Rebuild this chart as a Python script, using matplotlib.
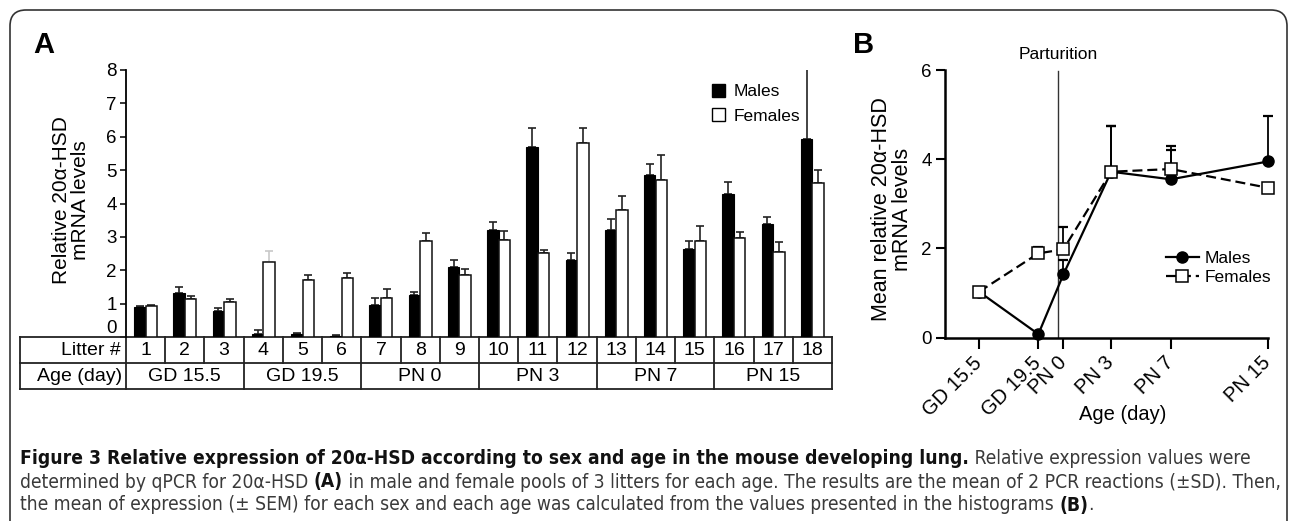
import numpy as np
import matplotlib
matplotlib.use("Agg")
import matplotlib.pyplot as plt
from matplotlib.patches import Patch, FancyBboxPatch
from matplotlib.transforms import blended_transform_factory, IdentityTransform

plt.rcParams['font.family'] = ['Liberation Sans', 'DejaVu Sans']

# ---------------- data ----------------
litters = list(range(1, 19))
age_groups = ["GD 15.5", "GD 19.5", "PN 0", "PN 3", "PN 7", "PN 15"]
males = [0.91, 1.31, 0.79, 0.10, 0.10, 0.04, 0.97, 1.25, 2.09,
         3.20, 5.69, 2.31, 3.20, 4.85, 2.65, 4.27, 3.40, 5.92]
males_sd = [0.03, 0.20, 0.07, 0.11, 0.03, 0.01, 0.20, 0.11, 0.22,
            0.26, 0.57, 0.22, 0.34, 0.33, 0.23, 0.36, 0.19, 2.10]
females = [0.94, 1.13, 1.05, 2.25, 1.71, 1.78, 1.17, 2.88, 1.86,
           2.92, 2.51, 5.81, 3.81, 4.69, 2.89, 2.96, 2.55, 4.62]
females_sd = [0.02, 0.11, 0.08, 0.33, 0.14, 0.15, 0.27, 0.23, 0.18,
              0.26, 0.10, 0.45, 0.42, 0.76, 0.44, 0.18, 0.30, 0.38]

age_labels = ["GD 15.5", "GD 19.5", "PN 0", "PN 3", "PN 7", "PN 15"]
age_pos = [0.0, 3.95, 5.62, 8.8, 12.78, 19.25]
parturition_pos = 5.25
mean_males = [1.03, 0.08, 1.42, 3.72, 3.55, 3.95]
mean_males_sem = [0.0, 0.0, 0.32, 1.03, 0.65, 1.01]
mean_females = [1.03, 1.89, 1.98, 3.72, 3.78, 3.36]
mean_females_sem = [0.0, 0.15, 0.49, 1.02, 0.52, 0.0]

# ---------------- figure ----------------
W, H = 1290, 521
fig = plt.figure(figsize=(W / 100, H / 100), dpi=100)

def fx(x):
    return x / W

def fy(y):
    return 1 - y / H

# border (rounded frame, open at the bottom)
border = FancyBboxPatch((10, -30), 1277, (H - 10) + 30,
                        boxstyle="round,pad=0,rounding_size=16",
                        transform=IdentityTransform(), fill=False,
                        edgecolor='#333333', linewidth=1.2)
fig.patches.append(border)

# ---------------- panel A ----------------
axA_l, axA_r, axA_t, axA_b = 126, 832, 70, 337
axA = fig.add_axes([fx(axA_l), fy(axA_b), fx(axA_r - axA_l), (axA_b - axA_t) / H])
x = np.array(litters, dtype=float)
off, bw = 0.147, 0.29
axA.bar(x - off, males, width=bw, color='black', edgecolor='black', linewidth=0.8, zorder=3)
axA.bar(x + off, females, width=bw, color='white', edgecolor='#111111', linewidth=1.1, zorder=3)
zeros = np.zeros(len(x))
axA.errorbar(x - off, males, yerr=[zeros, males_sd], fmt='none', ecolor='#222222',
             elinewidth=1.2, capsize=3.0, capthick=1.2, zorder=2)
f_err_colors = ['#222222'] * len(x)
f_err_colors[3] = '#c8c8c8'
for xi, yi, ei, ci in zip(x + off, females, females_sd, f_err_colors):
    axA.errorbar([xi], [yi], yerr=[[0], [ei]], fmt='none', ecolor=ci,
                 elinewidth=1.2, capsize=3.0, capthick=1.2, zorder=2)
axA.set_xlim(0.5, 18.5)
axA.set_ylim(0, 8)
axA.set_yticks(range(0, 9))
axA.tick_params(axis='y', direction='out', length=4.5, width=1.1, labelsize=13.5, pad=2)
axA.get_yticklabels()[0].set_va('bottom')
axA.set_xticks([])
for s in ['top', 'right', 'bottom']:
    axA.spines[s].set_visible(False)
axA.spines['left'].set_linewidth(1.3)
axA.set_ylabel("Relative 20α-HSD\nmRNA levels", fontsize=15, linespacing=1.0,
               ha='center', va='center')
axA.yaxis.set_label_coords((71 - axA_l) / (axA_r - axA_l), (axA_b - 200) / (axA_b - axA_t))

axA.legend(handles=[Patch(facecolor='black', edgecolor='black', label='Males'),
                    Patch(facecolor='white', edgecolor='black', label='Females')],
           loc='upper left', bbox_to_anchor=(fx(712), fy(84)), bbox_transform=fig.transFigure,
           handlelength=0.75, handleheight=0.75, handletextpad=0.5, labelspacing=0.5,
           borderpad=0, borderaxespad=0, frameon=False, fontsize=12.5)

# table under panel A
cellw = (axA_r - axA_l) / 18.0
tbl_left = 0.5 - (127 - 21) / cellw
blend = blended_transform_factory(axA.transData, fig.transFigure)
y0, y1, y2 = fy(337), fy(363), fy(389)
lk = dict(color='#222222', linewidth=1.3, transform=blend, clip_on=False, solid_capstyle='projecting')
for yy in (y0, y1, y2):
    axA.plot([tbl_left, 18.5], [yy, yy], **lk)
axA.plot([tbl_left, tbl_left], [y0, y2], **lk)
for i in range(19):
    axA.plot([0.5 + i, 0.5 + i], [y0, y1], **lk)
for g in range(7):
    axA.plot([0.5 + 3 * g, 0.5 + 3 * g], [y1, y2], **lk)
ymid1, ymid2 = fy(350.5), fy(376.5)
tk = dict(transform=blend, ha='center', va='center', fontsize=14, clip_on=False)
for i in litters:
    axA.text(i, ymid1, str(i), **tk)
for g, lab in enumerate(age_groups):
    axA.text(2 + 3 * g, ymid2, lab, **tk)
axA.text(0.5 - 5 / cellw, ymid1, "Litter #", transform=blend, ha='right', va='center', fontsize=14)
axA.text(0.5 - 4 / cellw, ymid2, "Age (day)", transform=blend, ha='right', va='center', fontsize=14)

# ---------------- panel B ----------------
axB_l, axB_r, axB_t, axB_b = 945, 1268, 70, 337.7
axB = fig.add_axes([fx(axB_l), fy(axB_b), fx(axB_r - axB_l), (axB_b - axB_t) / H])
axB.axvline(parturition_pos, ymin=0, ymax=0.995, color='#333333', linewidth=1.0, zorder=1)
axB.errorbar(age_pos, mean_males, yerr=[np.zeros(6), mean_males_sem], fmt='none',
             ecolor='black', elinewidth=1.3, capsize=3.5, capthick=1.6, zorder=2, clip_on=False)
axB.errorbar(age_pos, mean_females, yerr=[np.zeros(6), mean_females_sem], fmt='none',
             ecolor='black', elinewidth=1.3, capsize=3.5, capthick=1.6, zorder=2, clip_on=False)
lm, = axB.plot(age_pos, mean_males, '-o', color='black', linewidth=1.6, markersize=8,
               markerfacecolor='black', zorder=4, clip_on=False, label='Males')
lf, = axB.plot(age_pos, mean_females, '--s', color='black', linewidth=1.6, markersize=8,
               markerfacecolor='white', markeredgewidth=1.1, dashes=(4.5, 2.2), zorder=5,
               clip_on=False, label='Females')
axB.set_xlim(-2.27, 19.25)
axB.set_ylim(0, 6)
axB.set_yticks([0, 2, 4, 6])
axB.set_xticks(age_pos)
axB.set_xticklabels(age_labels, rotation=45, ha='right', va='center', rotation_mode='anchor')
axB.tick_params(axis='y', direction='out', length=6.5, width=1.5, labelsize=13.5, pad=3)
axB.tick_params(axis='x', direction='out', length=8, width=1.5, labelsize=14.5, pad=8)
for s in ['top', 'right']:
    axB.spines[s].set_visible(False)
axB.spines['left'].set_linewidth(1.8)
axB.spines['bottom'].set_linewidth(1.8)
axB.set_ylabel("Mean relative 20α-HSD\nmRNA levels", fontsize=15.5, linespacing=1.05,
               ha='center', va='center')
axB.yaxis.set_label_coords((892 - axB_l) / (axB_r - axB_l), (axB_b - 209) / (axB_b - axB_t))
axB.set_xlabel("Age (day)", fontsize=14.5, ha='center', va='center')
axB.xaxis.set_label_coords((1123 - axB_l) / (axB_r - axB_l), (axB_b - 414) / (axB_b - axB_t))
axB.text(parturition_pos, 6.35, "Parturition", ha='center', va='center', fontsize=12.5)
axB.legend(handles=[lm, lf], loc='upper left', bbox_to_anchor=(fx(1166), fy(251)),
           bbox_transform=fig.transFigure, handlelength=1.9, handletextpad=0.3,
           labelspacing=0.22, borderpad=0, borderaxespad=0, frameon=False,
           fontsize=12.5, numpoints=1)

# panel letters
fig.text(fx(33), fy(53), "A", fontsize=21, fontweight='bold', ha='left', va='baseline')
fig.text(fx(853), fy(53), "B", fontsize=21, fontweight='bold', ha='left', va='baseline')

# ---------------- caption ----------------
renderer = fig.canvas.get_renderer()
lines = [
    [("Figure 3 Relative expression of 20α-HSD according to sex and age in the mouse developing lung.", 'bold'),
     (" Relative expression values were", 'normal')],
    [("determined by qPCR for 20α-HSD ", 'normal'), ("(A)", 'bold'),
     (" in male and female pools of 3 litters for each age. The results are the mean of 2 PCR reactions (±SD). Then,", 'normal')],
    [("the mean of expression (± SEM) for each sex and each age was calculated from the values presented in the histograms ", 'normal'),
     ("(B)", 'bold'), (".", 'normal')],
]

def draw_line(runs, x0, y, size, draw=True):
    xx = x0
    objs = []
    for txt, wt in runs:
        t = fig.text(fx(xx), fy(y), txt, fontsize=size, fontweight=wt,
                     family=['DejaVu Sans'], fontstretch='condensed',
                     ha='left', va='center', color='#111111' if wt == 'bold' else '#3a3a3a')
        bb = t.get_window_extent(renderer)
        xx += bb.width
        objs.append(t)
    if not draw:
        for t in objs:
            t.remove()
    return xx - x0

w10 = draw_line(lines[1], 20, 482, 10, draw=False)
capsize = 10 * (1265 / w10)
for runs, yy in zip(lines, [458, 482, 505]):
    draw_line(runs, 20, yy, capsize)

fig.savefig("out.png", dpi=100)
